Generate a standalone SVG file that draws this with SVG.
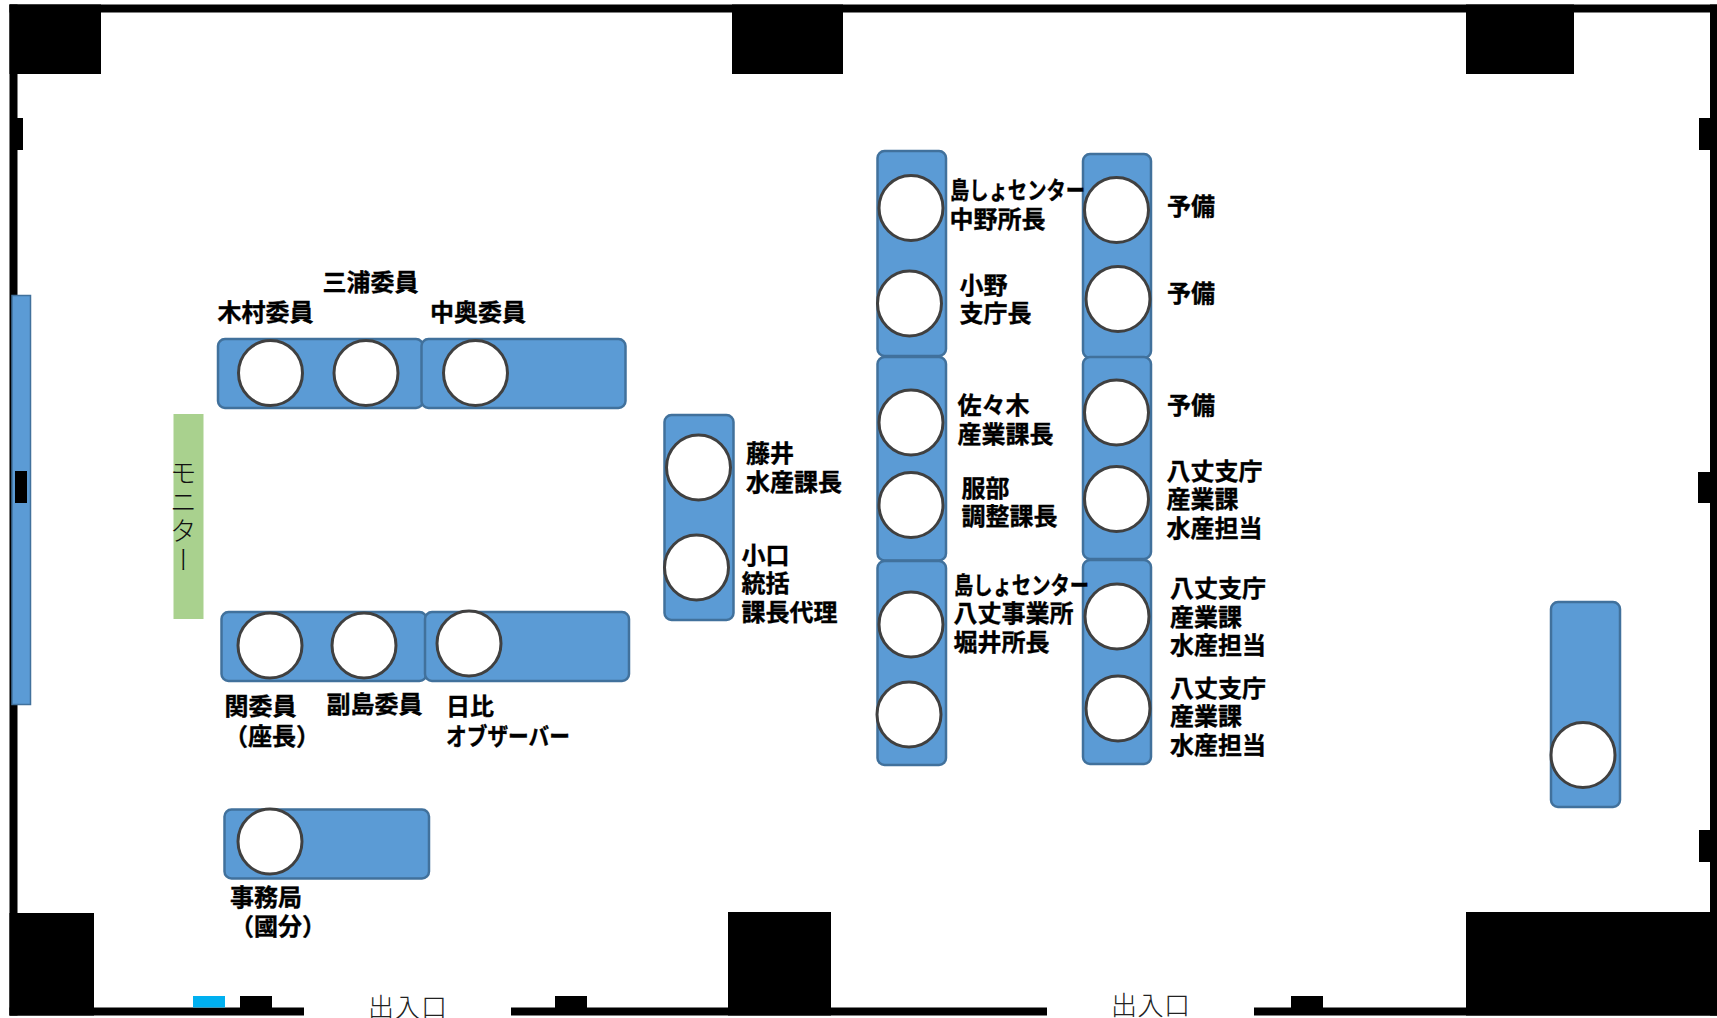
<svg xmlns="http://www.w3.org/2000/svg" width="1717" height="1018" viewBox="0 0 1717 1018">
<style>
.w{fill:#000}
.t{fill:#5B9BD5;stroke:#41719C;stroke-width:2.5}
.c{fill:#fff;stroke:#404040;stroke-width:3}
.l{font-family:"Noto Sans CJK JP","Noto Sans",sans-serif;font-weight:700;font-size:24px;fill:#000;stroke:#000;stroke-width:.35}
.n{font-family:"Noto Sans CJK JP","Noto Sans",sans-serif;font-weight:300;font-size:26px;fill:#222}
</style>
<rect width="1717" height="1018" fill="#fff"/>
<g id="room">
<rect class="w" x="9.5" y="4.5" width="1707.5" height="8"/>
<rect class="w" x="9.5" y="4.5" width="8" height="1011"/>
<rect class="w" x="1710" y="4.5" width="7" height="1011"/>
<rect class="w" x="9.5" y="4.5" width="91.5" height="69.5"/>
<rect class="w" x="732" y="4.5" width="111" height="69.5"/>
<rect class="w" x="1466" y="4.5" width="108" height="69.5"/>
<rect class="w" x="17" y="118" width="6" height="32"/>
<rect class="w" x="1699" y="118" width="12" height="32"/>
<rect class="w" x="1698" y="472" width="13" height="31"/>
<rect class="w" x="1699" y="830" width="12" height="32"/>
<rect class="w" x="9.5" y="913" width="84.5" height="102.5"/>
<rect class="w" x="728" y="912" width="103" height="103.5"/>
<rect class="w" x="1466" y="912" width="251" height="103.5"/>
<rect class="w" x="9.5" y="1007.5" width="294.5" height="8"/>
<rect class="w" x="511" y="1007.5" width="536" height="8"/>
<rect class="w" x="1254" y="1007.5" width="463" height="8"/>
<rect class="w" x="240" y="996" width="32" height="12"/>
<rect class="w" x="555" y="996" width="32" height="12"/>
<rect class="w" x="1291" y="996" width="32" height="12"/>
<rect x="193" y="996" width="32" height="11.5" fill="#00B0F0"/>
</g>
<g id="window">
<rect x="12" y="295.500" width="18.500" height="409" fill="#5B9BD5" stroke="#41719C" stroke-width="1.500"/>
<rect class="w" x="15" y="471" width="12" height="32"/>
</g>
<g id="monitor">
<rect x="173.500" y="414" width="30" height="205" fill="#A9D18E"/>
<text x="183.500" y="459" style="font-family:'Noto Sans CJK JP',sans-serif;font-size:27px;font-weight:300;writing-mode:vertical-rl;letter-spacing:2px;fill:#111">モニター</text>
</g>
<g id="table-kimura"><rect class="t" x="218" y="339" width="205" height="69" rx="7"/><ellipse class="c" cx="270.500" cy="373" rx="32" ry="32.500"/><ellipse class="c" cx="366" cy="373" rx="32" ry="32.500"/>
<text class="l" x="217.500" y="321">木村委員</text><text class="l" x="322.500" y="291">三浦委員</text></g>
<g id="table-nakaoku"><rect class="t" x="421.500" y="339" width="204" height="69" rx="7"/><ellipse class="c" cx="475.500" cy="373" rx="32" ry="32.500"/>
<text class="l" x="430" y="321">中奥委員</text></g>
<g id="table-fujii"><rect class="t" x="664.500" y="415" width="69" height="205" rx="7"/><ellipse class="c" cx="698.500" cy="467.500" rx="32" ry="32.500"/><ellipse class="c" cx="696.500" cy="567.500" rx="32" ry="32.500"/>
<text class="l" x="746" y="462">藤井</text><text class="l" x="746" y="491">水産課長</text>
<text class="l" x="741.500" y="564">小口</text><text class="l" x="741.500" y="592">統括</text><text class="l" x="741.500" y="621">課長代理</text></g>
<g id="table-seki"><rect class="t" x="221.500" y="612" width="205" height="69" rx="7"/><ellipse class="c" cx="270" cy="645.500" rx="32" ry="32.500"/><ellipse class="c" cx="364" cy="645.500" rx="32" ry="32.500"/>
<text class="l" x="224.500" y="715">関委員</text><text class="l" x="224" y="745">（座長）</text><text class="l" x="326.500" y="713">副島委員</text></g>
<g id="table-hibi"><rect class="t" x="425" y="612" width="204" height="69" rx="7"/><ellipse class="c" cx="469" cy="643.500" rx="32" ry="32.500"/>
<text class="l" x="446" y="715">日比</text><text class="l" x="446" y="745" textLength="124" lengthAdjust="spacingAndGlyphs">オブザーバー</text></g>
<g id="table-secretariat"><rect class="t" x="224.500" y="809.500" width="204.500" height="69" rx="7"/><ellipse class="c" cx="270" cy="841.500" rx="32" ry="32.500"/>
<text class="l" x="230" y="906">事務局</text><text class="l" x="230" y="935">（國分）</text></g>
<g id="table-b1"><rect class="t" x="1083" y="154" width="68" height="204" rx="7"/><ellipse class="c" cx="1116.500" cy="210" rx="32" ry="32.500"/><ellipse class="c" cx="1118" cy="299" rx="32" ry="32.500"/>
<text class="l" x="1167" y="215">予備</text><text class="l" x="1167" y="302">予備</text></g>
<g id="table-b2"><rect class="t" x="1083" y="357" width="68" height="202" rx="7"/><ellipse class="c" cx="1116.500" cy="412.500" rx="32" ry="32.500"/><ellipse class="c" cx="1116.500" cy="499" rx="32" ry="32.500"/>
<text class="l" x="1167" y="414">予備</text><text class="l" x="1166.500" y="480">八丈支庁</text><text class="l" x="1166.500" y="508">産業課</text><text class="l" x="1166.500" y="537">水産担当</text></g>
<g id="table-b3"><rect class="t" x="1083" y="560" width="68" height="204" rx="7"/><ellipse class="c" cx="1117" cy="616.500" rx="32" ry="32.500"/><ellipse class="c" cx="1118" cy="708.500" rx="32" ry="32.500"/>
<text class="l" x="1170" y="597">八丈支庁</text><text class="l" x="1170" y="626">産業課</text><text class="l" x="1170" y="654">水産担当</text><text class="l" x="1170" y="697">八丈支庁</text><text class="l" x="1170" y="725">産業課</text><text class="l" x="1170" y="754">水産担当</text></g>
<g id="table-a1"><rect class="t" x="877.500" y="151" width="68.500" height="205" rx="7"/><ellipse class="c" cx="911" cy="208" rx="32" ry="32.500"/><ellipse class="c" cx="909.500" cy="303.500" rx="32" ry="32.500"/>
<text class="l" x="950" y="199" textLength="135" lengthAdjust="spacingAndGlyphs">島しょセンター</text><text class="l" x="949.500" y="227.500">中野所長</text><text class="l" x="959.500" y="294">小野</text><text class="l" x="959.500" y="322">支庁長</text></g>
<g id="table-a2"><rect class="t" x="877.500" y="357" width="68.500" height="203.500" rx="7"/><ellipse class="c" cx="911" cy="422.500" rx="32" ry="32.500"/><ellipse class="c" cx="911" cy="505" rx="32" ry="32.500"/>
<text class="l" x="957.500" y="414">佐々木</text><text class="l" x="957.500" y="443">産業課長</text><text class="l" x="961.500" y="496.500">服部</text><text class="l" x="961.500" y="525">調整課長</text></g>
<g id="table-a3"><rect class="t" x="877.500" y="561" width="68.500" height="204" rx="7"/><ellipse class="c" cx="911" cy="624.500" rx="32" ry="32.500"/><ellipse class="c" cx="909" cy="714.500" rx="32" ry="32.500"/>
<text class="l" x="954" y="593.500" textLength="135" lengthAdjust="spacingAndGlyphs">島しょセンター</text><text class="l" x="953.500" y="622" textLength="120" lengthAdjust="spacingAndGlyphs">八丈事業所</text><text class="l" x="953.500" y="651">堀井所長</text></g>
<g id="table-right"><rect class="t" x="1551" y="602" width="69" height="205" rx="7"/><ellipse class="c" cx="1583" cy="755" rx="32" ry="32.500"/></g>
<g id="entrances"><text class="n" x="368" y="1017" textLength="79">出入口</text><text class="n" x="1111" y="1015" textLength="79">出入口</text></g>
<g id="connectors"></g>
</svg>
